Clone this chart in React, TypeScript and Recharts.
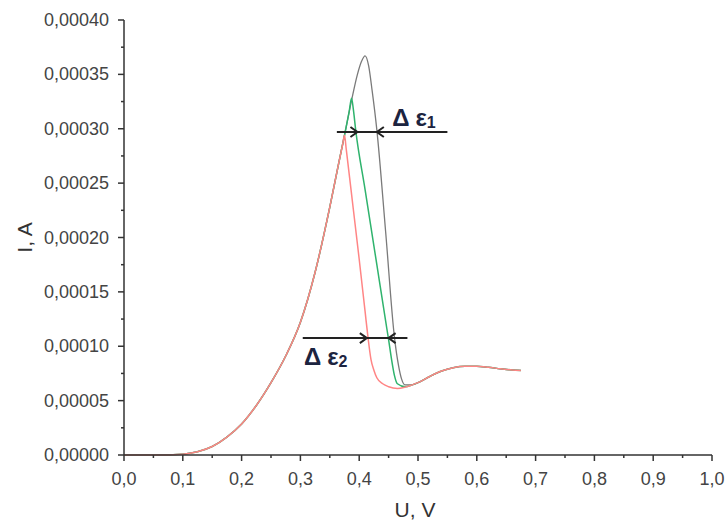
import { LineChart, Line, XAxis, YAxis, ReferenceLine, ReferenceDot, Label } from 'recharts';

// shared rising branch (U in V, I in A)
const RISE_U = [0, 0.05, 0.1, 0.125, 0.15, 0.175, 0.2, 0.225, 0.25, 0.275, 0.3, 0.325, 0.35];
const RISE_I = [0, 0, 0.0000008, 0.000003, 0.0000078, 0.0000165, 0.0000285, 0.0000455, 0.0000665, 0.000091, 0.000122, 0.000168, 0.000228];

// peak + drop, one per curve
const GRAY_U = [0.365, 0.375, 0.387, 0.397, 0.404, 0.41, 0.416, 0.422, 0.43, 0.445, 0.46, 0.467, 0.472, 0.478];
const GRAY_I = [0.000268, 0.000294, 0.000326, 0.00035, 0.000362, 0.000367, 0.000358, 0.000335, 0.000299, 0.000205, 0.000108, 0.000082, 0.00007, 0.0000645];

const GREEN_U = [0.365, 0.375, 0.383, 0.387, 0.39, 0.394, 0.41, 0.43, 0.445, 0.45, 0.455, 0.46, 0.465, 0.478];
const GREEN_I = [0.000268, 0.000294, 0.000316, 0.000328, 0.000318, 0.000299, 0.000244, 0.000175, 0.000123, 0.000106, 0.000088, 0.000073, 0.0000655, 0.0000628];

const RED_U = [0.365, 0.372, 0.375, 0.378, 0.39, 0.4, 0.41, 0.415, 0.42, 0.425, 0.43, 0.44, 0.45, 0.465, 0.478];
const RED_I = [0.000268, 0.000286, 0.000294, 0.000281, 0.000226, 0.00018, 0.000132, 0.000108, 0.000088, 0.000078, 0.000071, 0.0000655, 0.0000628, 0.0000612, 0.0000624];

// shared tail with the second hump
const TAIL_U = [0.49, 0.5, 0.52, 0.54, 0.56, 0.58, 0.6, 0.62, 0.64, 0.66, 0.675];
const TAIL_I = [0.0000645, 0.0000665, 0.0000722, 0.0000772, 0.0000803, 0.0000815, 0.0000815, 0.0000806, 0.0000793, 0.0000782, 0.0000778];

const X_MAJOR = [0, 0.1, 0.2, 0.3, 0.4, 0.5, 0.6, 0.7, 0.8, 0.9, 1.0];
const X_MINOR = [0.05, 0.15, 0.25, 0.35, 0.45, 0.55, 0.65, 0.75, 0.85, 0.95];
const Y_MAJOR = [0, 0.00005, 0.0001, 0.00015, 0.0002, 0.00025, 0.0003, 0.00035, 0.0004];
const Y_MINOR = [0.000025, 0.000075, 0.000125, 0.000175, 0.000225, 0.000275, 0.000325, 0.000375];

// annotation arrows
const EPS1 = { from: 0.362, to: 0.55, right: 0.397, left: 0.43, level: 0.000297, text: 0.456 };
const EPS2 = { from: 0.304, to: 0.482, right: 0.413, left: 0.45, level: 0.0001075, text: 0.306 };

const build = (us: number[], is: number[]) => us.map((u, k) => ({ u, i: is[k] }));
const grayData = [...build(RISE_U, RISE_I), ...build(GRAY_U, GRAY_I), ...build(TAIL_U, TAIL_I)];
const greenData = [...build(RISE_U, RISE_I), ...build(GREEN_U, GREEN_I), ...build(TAIL_U, TAIL_I)];
const redData = [...build(RISE_U, RISE_I), ...build(RED_U, RED_I), ...build(TAIL_U, TAIL_I)];

const FONT = "'Liberation Sans', Arial, sans-serif";
const AXIS = '#333';

const XTick = ({ x, y, payload }: any) => {
  const major = X_MAJOR.includes(payload.value);
  return (
    <g>
      <line x1={x} y1={y} x2={x} y2={y + (major ? 6 : 3)} stroke={AXIS} strokeWidth={1.5} />
      {major && (
        <text x={x} y={y + 30} textAnchor="middle" fontSize={18} fill="#444" fontFamily={FONT}>
          {payload.value.toFixed(1).replace('.', ',')}
        </text>
      )}
    </g>
  );
};

const YTick = ({ x, y, payload }: any) => {
  const major = Y_MAJOR.includes(payload.value);
  return (
    <g>
      <line x1={x} y1={y} x2={x - (major ? 6 : 3)} y2={y} stroke={AXIS} strokeWidth={1.5} />
      {major && (
        <text x={x - 15} y={y + 6} textAnchor="end" fontSize={18} fill="#444" fontFamily={FONT}>
          {payload.value.toFixed(5).replace('.', ',')}
        </text>
      )}
    </g>
  );
};

const ArrowHead = ({ cx, cy, dir }: any) => (
  <path
    d={`M${cx - dir * 7},${cy - 5} L${cx},${cy} L${cx - dir * 7},${cy + 5}`}
    fill="none"
    stroke="#222"
    strokeWidth={2}
  />
);

const EpsText = ({ cx, cy, sub, dy }: any) => (
  <text x={cx} y={cy + dy} fontSize={24} fontWeight="bold" fill="#1c2440" fontFamily={FONT}>
    Δ
    <tspan dx={6}>ε</tspan>
    <tspan fontSize={16} dy={2}>{sub}</tspan>
  </text>
);

export default function App() {
  return (
    <div style={{ position: 'absolute', left: 0, top: 0, width: 728, height: 525, background: '#fff' }}>
      <LineChart width={728} height={525} margin={{ top: 20, right: 16, left: 0, bottom: 0 }}>
        <XAxis
          dataKey="u"
          type="number"
          domain={[0, 1]}
          ticks={[...X_MAJOR, ...X_MINOR]}
          interval={0}
          tickSize={0}
          tickMargin={0}
          tickLine={false}
          tick={<XTick />}
          height={70}
          stroke={AXIS}
          strokeWidth={1.5}
        >
          <Label
            content={({ viewBox }: any) => (
              <text x={viewBox.x + viewBox.width / 2 - 3} y={viewBox.y + 62} textAnchor="middle" fontSize={21} fill="#333" fontFamily={FONT}>
                U, V
              </text>
            )}
          />
        </XAxis>
        <YAxis
          type="number"
          domain={[0, 0.0004]}
          ticks={[...Y_MAJOR, ...Y_MINOR]}
          interval={0}
          tickSize={0}
          tickMargin={0}
          tickLine={false}
          tick={<YTick />}
          width={124}
          stroke={AXIS}
          strokeWidth={1.5}
        >
          <Label
            content={({ viewBox }: any) => {
              const cx = viewBox.x + 32;
              const cy = viewBox.y + viewBox.height / 2;
              return (
                <text x={cx} y={cy} transform={`rotate(-90, ${cx}, ${cy})`} textAnchor="middle" fontSize={21} fill="#333" fontFamily={FONT}>
                  I, A
                </text>
              );
            }}
          />
        </YAxis>

        <Line data={grayData} dataKey="i" type="monotone" stroke="#7a7a7a" strokeWidth={1.3} dot={false} activeDot={false} isAnimationActive={false} />
        <Line data={greenData} dataKey="i" type="monotone" stroke="#2fb36d" strokeWidth={1.5} dot={false} activeDot={false} isAnimationActive={false} />
        <Line data={redData} dataKey="i" type="monotone" stroke="#ff8585" strokeWidth={1.5} dot={false} activeDot={false} isAnimationActive={false} />

        <ReferenceLine segment={[{ x: EPS1.from, y: EPS1.level }, { x: EPS1.to, y: EPS1.level }]} stroke="#222" strokeWidth={2} />
        <ReferenceDot x={EPS1.right} y={EPS1.level} shape={(p: any) => <ArrowHead {...p} dir={1} />} />
        <ReferenceDot x={EPS1.left} y={EPS1.level} shape={(p: any) => <ArrowHead {...p} dir={-1} />} />
        <ReferenceDot x={EPS1.text} y={EPS1.level} shape={(p: any) => <EpsText {...p} sub="1" dy={-6} />} />

        <ReferenceLine segment={[{ x: EPS2.from, y: EPS2.level }, { x: EPS2.to, y: EPS2.level }]} stroke="#222" strokeWidth={2} />
        <ReferenceDot x={EPS2.right} y={EPS2.level} shape={(p: any) => <ArrowHead {...p} dir={1} />} />
        <ReferenceDot x={EPS2.left} y={EPS2.level} shape={(p: any) => <ArrowHead {...p} dir={-1} />} />
        <ReferenceDot x={EPS2.text} y={EPS2.level} shape={(p: any) => <EpsText {...p} sub="2" dy={27} />} />
      </LineChart>
    </div>
  );
}
